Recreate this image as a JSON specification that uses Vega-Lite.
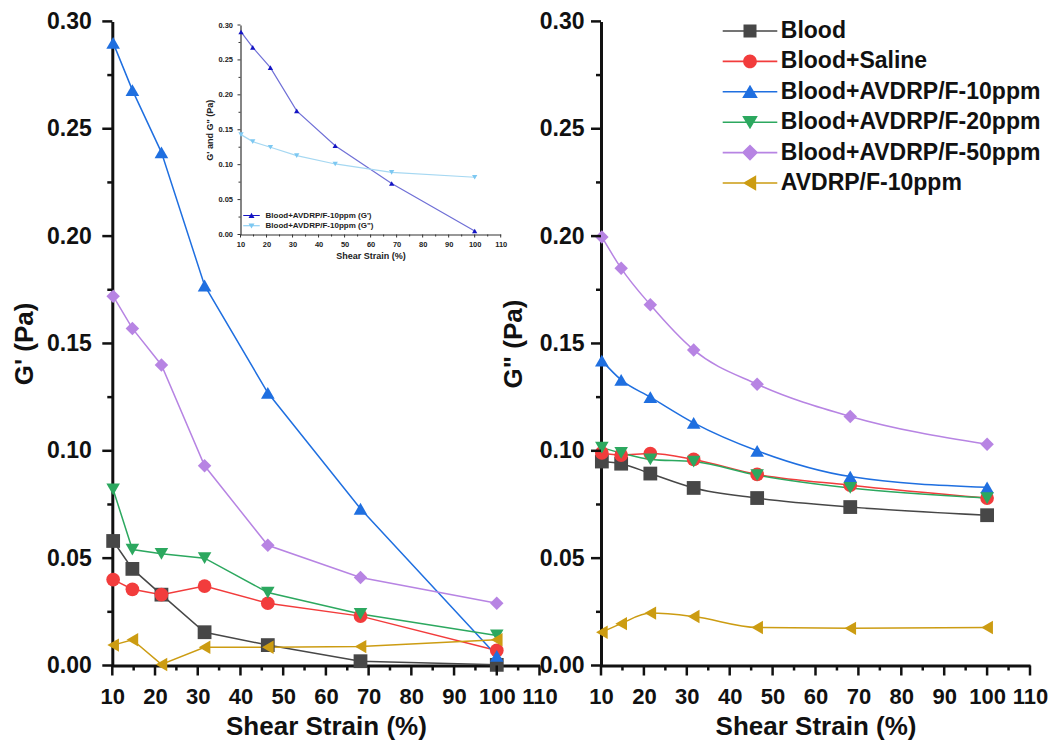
{
  "$schema": "https://vega.github.io/schema/vega-lite/v6.json",
  "width": 1055,
  "height": 745,
  "padding": 0,
  "autosize": {"type": "none"},
  "background": "white",
  "config": {
    "view": {"stroke": null},
    "axis": {
      "grid": false,
      "ticks": false,
      "labelFont": "Liberation Sans",
      "titleFont": "Liberation Sans",
      "labelFontWeight": "bold",
      "titleFontWeight": "bold",
      "labelColor": "#111111",
      "titleColor": "#111111",
      "domainColor": "#111111",
      "labelFlush": false,
      "labelOverlap": false
    }
  },
  "datasets": {
    "gprime": [
      {"series": "Blood", "strain": 10.2, "value": 0.058},
      {"series": "Blood", "strain": 14.7, "value": 0.045},
      {"series": "Blood", "strain": 21.5, "value": 0.033},
      {"series": "Blood", "strain": 31.6, "value": 0.0155},
      {"series": "Blood", "strain": 46.4, "value": 0.0095},
      {"series": "Blood", "strain": 68.1, "value": 0.002},
      {"series": "Blood", "strain": 100, "value": 0.0003},
      {"series": "Blood+Saline", "strain": 10.2, "value": 0.040},
      {"series": "Blood+Saline", "strain": 14.7, "value": 0.0355},
      {"series": "Blood+Saline", "strain": 21.5, "value": 0.033},
      {"series": "Blood+Saline", "strain": 31.6, "value": 0.037},
      {"series": "Blood+Saline", "strain": 46.4, "value": 0.029},
      {"series": "Blood+Saline", "strain": 68.1, "value": 0.023},
      {"series": "Blood+Saline", "strain": 100, "value": 0.007},
      {"series": "Blood+AVDRP/F-10ppm", "strain": 10.2, "value": 0.290},
      {"series": "Blood+AVDRP/F-10ppm", "strain": 14.7, "value": 0.268},
      {"series": "Blood+AVDRP/F-10ppm", "strain": 21.5, "value": 0.239},
      {"series": "Blood+AVDRP/F-10ppm", "strain": 31.6, "value": 0.177},
      {"series": "Blood+AVDRP/F-10ppm", "strain": 46.4, "value": 0.127},
      {"series": "Blood+AVDRP/F-10ppm", "strain": 68.1, "value": 0.073},
      {"series": "Blood+AVDRP/F-10ppm", "strain": 100, "value": 0.0045},
      {"series": "Blood+AVDRP/F-20ppm", "strain": 10.2, "value": 0.082},
      {"series": "Blood+AVDRP/F-20ppm", "strain": 14.7, "value": 0.054},
      {"series": "Blood+AVDRP/F-20ppm", "strain": 21.5, "value": 0.052},
      {"series": "Blood+AVDRP/F-20ppm", "strain": 31.6, "value": 0.050},
      {"series": "Blood+AVDRP/F-20ppm", "strain": 46.4, "value": 0.034},
      {"series": "Blood+AVDRP/F-20ppm", "strain": 68.1, "value": 0.024},
      {"series": "Blood+AVDRP/F-20ppm", "strain": 100, "value": 0.014},
      {"series": "Blood+AVDRP/F-50ppm", "strain": 10.2, "value": 0.172},
      {"series": "Blood+AVDRP/F-50ppm", "strain": 14.7, "value": 0.157},
      {"series": "Blood+AVDRP/F-50ppm", "strain": 21.5, "value": 0.140},
      {"series": "Blood+AVDRP/F-50ppm", "strain": 31.6, "value": 0.093},
      {"series": "Blood+AVDRP/F-50ppm", "strain": 46.4, "value": 0.056},
      {"series": "Blood+AVDRP/F-50ppm", "strain": 68.1, "value": 0.041},
      {"series": "Blood+AVDRP/F-50ppm", "strain": 100, "value": 0.029},
      {"series": "AVDRP/F-10ppm", "strain": 10.2, "value": 0.0095},
      {"series": "AVDRP/F-10ppm", "strain": 14.7, "value": 0.012},
      {"series": "AVDRP/F-10ppm", "strain": 21.5, "value": 0.0005},
      {"series": "AVDRP/F-10ppm", "strain": 31.6, "value": 0.0085},
      {"series": "AVDRP/F-10ppm", "strain": 46.4, "value": 0.0085},
      {"series": "AVDRP/F-10ppm", "strain": 68.1, "value": 0.0088},
      {"series": "AVDRP/F-10ppm", "strain": 100, "value": 0.012}
    ],
    "gdouble": [
      {"series": "Blood", "strain": 10.2, "value": 0.095},
      {"series": "Blood", "strain": 14.7, "value": 0.094},
      {"series": "Blood", "strain": 21.5, "value": 0.0894},
      {"series": "Blood", "strain": 31.6, "value": 0.0827},
      {"series": "Blood", "strain": 46.4, "value": 0.078},
      {"series": "Blood", "strain": 68.1, "value": 0.0738},
      {"series": "Blood", "strain": 100, "value": 0.070},
      {"series": "Blood+Saline", "strain": 10.2, "value": 0.099},
      {"series": "Blood+Saline", "strain": 14.7, "value": 0.098},
      {"series": "Blood+Saline", "strain": 21.5, "value": 0.0987},
      {"series": "Blood+Saline", "strain": 31.6, "value": 0.096},
      {"series": "Blood+Saline", "strain": 46.4, "value": 0.089},
      {"series": "Blood+Saline", "strain": 68.1, "value": 0.084},
      {"series": "Blood+Saline", "strain": 100, "value": 0.078},
      {"series": "Blood+AVDRP/F-10ppm", "strain": 10.2, "value": 0.142},
      {"series": "Blood+AVDRP/F-10ppm", "strain": 14.7, "value": 0.133},
      {"series": "Blood+AVDRP/F-10ppm", "strain": 21.5, "value": 0.125},
      {"series": "Blood+AVDRP/F-10ppm", "strain": 31.6, "value": 0.113},
      {"series": "Blood+AVDRP/F-10ppm", "strain": 46.4, "value": 0.100},
      {"series": "Blood+AVDRP/F-10ppm", "strain": 68.1, "value": 0.088},
      {"series": "Blood+AVDRP/F-10ppm", "strain": 100, "value": 0.083},
      {"series": "Blood+AVDRP/F-20ppm", "strain": 10.2, "value": 0.1015},
      {"series": "Blood+AVDRP/F-20ppm", "strain": 14.7, "value": 0.099},
      {"series": "Blood+AVDRP/F-20ppm", "strain": 21.5, "value": 0.096},
      {"series": "Blood+AVDRP/F-20ppm", "strain": 31.6, "value": 0.095},
      {"series": "Blood+AVDRP/F-20ppm", "strain": 46.4, "value": 0.0887},
      {"series": "Blood+AVDRP/F-20ppm", "strain": 68.1, "value": 0.0827},
      {"series": "Blood+AVDRP/F-20ppm", "strain": 100, "value": 0.078},
      {"series": "Blood+AVDRP/F-50ppm", "strain": 10.2, "value": 0.1996},
      {"series": "Blood+AVDRP/F-50ppm", "strain": 14.7, "value": 0.185},
      {"series": "Blood+AVDRP/F-50ppm", "strain": 21.5, "value": 0.168},
      {"series": "Blood+AVDRP/F-50ppm", "strain": 31.6, "value": 0.147},
      {"series": "Blood+AVDRP/F-50ppm", "strain": 46.4, "value": 0.131},
      {"series": "Blood+AVDRP/F-50ppm", "strain": 68.1, "value": 0.116},
      {"series": "Blood+AVDRP/F-50ppm", "strain": 100, "value": 0.103},
      {"series": "AVDRP/F-10ppm", "strain": 10.2, "value": 0.0155},
      {"series": "AVDRP/F-10ppm", "strain": 14.7, "value": 0.0195},
      {"series": "AVDRP/F-10ppm", "strain": 21.5, "value": 0.0244},
      {"series": "AVDRP/F-10ppm", "strain": 31.6, "value": 0.0228},
      {"series": "AVDRP/F-10ppm", "strain": 46.4, "value": 0.0177},
      {"series": "AVDRP/F-10ppm", "strain": 68.1, "value": 0.0173},
      {"series": "AVDRP/F-10ppm", "strain": 100, "value": 0.0177}
    ],
    "inset": [
      {"series": "Blood+AVDRP/F-10ppm (G')", "strain": 10.2, "value": 0.290},
      {"series": "Blood+AVDRP/F-10ppm (G')", "strain": 14.7, "value": 0.268},
      {"series": "Blood+AVDRP/F-10ppm (G')", "strain": 21.5, "value": 0.239},
      {"series": "Blood+AVDRP/F-10ppm (G')", "strain": 31.6, "value": 0.177},
      {"series": "Blood+AVDRP/F-10ppm (G')", "strain": 46.4, "value": 0.127},
      {"series": "Blood+AVDRP/F-10ppm (G')", "strain": 68.1, "value": 0.073},
      {"series": "Blood+AVDRP/F-10ppm (G')", "strain": 100, "value": 0.005},
      {"series": "Blood+AVDRP/F-10ppm (G\")", "strain": 10.2, "value": 0.143},
      {"series": "Blood+AVDRP/F-10ppm (G\")", "strain": 14.7, "value": 0.133},
      {"series": "Blood+AVDRP/F-10ppm (G\")", "strain": 21.5, "value": 0.125},
      {"series": "Blood+AVDRP/F-10ppm (G\")", "strain": 31.6, "value": 0.113},
      {"series": "Blood+AVDRP/F-10ppm (G\")", "strain": 46.4, "value": 0.101},
      {"series": "Blood+AVDRP/F-10ppm (G\")", "strain": 68.1, "value": 0.089},
      {"series": "Blood+AVDRP/F-10ppm (G\")", "strain": 100, "value": 0.082}
    ]
  },
  "layer": [
    {
      "data": {"name": "gprime"},
      "layer": [
        {
          "mark": {"type": "line", "strokeWidth": 1.5},
          "encoding": {
            "x": {"field": "strain", "type": "quantitative",
              "scale": {"domain": [10, 110], "range": [112.3, 539.5], "nice": false, "zero": false},
              "axis": {"orient": "bottom", "offset": -79.5, "values": [10, 20, 30, 40, 50, 60, 70, 80, 90, 100, 110],
                "title": "Shear Strain (%)", "labelFontSize": 22, "titleFontSize": 26,
                "domainWidth": 3, "labelPadding": 21, "titlePadding": 6}},
            "y": {"field": "value", "type": "quantitative",
              "scale": {"domain": [0, 0.3], "range": [665.5, 21.4], "nice": false, "zero": false},
              "axis": {"orient": "left", "offset": -112.3, "values": [0, 0.05, 0.1, 0.15, 0.2, 0.25, 0.3], "format": ".2f",
                "title": "G' (Pa)", "labelFontSize": 23, "titleFontSize": 26,
                "domainWidth": 3, "labelPadding": 21, "titlePadding": 9}},
            "color": {"field": "series", "type": "nominal",
              "scale": {"domain": ["Blood", "Blood+Saline", "Blood+AVDRP/F-10ppm", "Blood+AVDRP/F-20ppm", "Blood+AVDRP/F-50ppm", "AVDRP/F-10ppm"],
                "range": ["#474747", "#f23c3c", "#1f6fe0", "#2ca85f", "#b784e3", "#cc9c12"]},
              "legend": null}
          }
        },
        {
          "mark": {"type": "point", "filled": true, "opacity": 1},
          "encoding": {
            "x": {"field": "strain", "type": "quantitative", "axis": null},
            "y": {"field": "value", "type": "quantitative", "axis": null},
            "color": {"field": "series", "type": "nominal",
              "scale": {"domain": ["Blood", "Blood+Saline", "Blood+AVDRP/F-10ppm", "Blood+AVDRP/F-20ppm", "Blood+AVDRP/F-50ppm", "AVDRP/F-10ppm"],
                "range": ["#474747", "#f23c3c", "#1f6fe0", "#2ca85f", "#b784e3", "#cc9c12"]},
              "legend": null},
            "shape": {"field": "series", "type": "nominal",
              "scale": {"domain": ["Blood", "Blood+Saline", "Blood+AVDRP/F-10ppm", "Blood+AVDRP/F-20ppm", "Blood+AVDRP/F-50ppm", "AVDRP/F-10ppm"],
                "range": ["square", "circle", "triangle-up", "triangle-down", "diamond", "triangle-left"]},
              "legend": null},
            "size": {"field": "series", "type": "ordinal",
              "scale": {"domain": ["Blood", "Blood+Saline", "Blood+AVDRP/F-10ppm", "Blood+AVDRP/F-20ppm", "Blood+AVDRP/F-50ppm", "AVDRP/F-10ppm"],
                "range": [190, 180, 260, 260, 290, 260]},
              "legend": null}
          }
        },
        {
          "data": {"values": [{"tick": 10}, {"tick": 20}, {"tick": 30}, {"tick": 40}, {"tick": 50}, {"tick": 60}, {"tick": 70}, {"tick": 80}, {"tick": 90}, {"tick": 100}, {"tick": 110}]},
          "mark": {"type": "point", "shape": "M-0.125,0H0.125V1H-0.125Z", "size": 400, "filled": true, "color": "#111111", "opacity": 1, "strokeWidth": 0},
          "encoding": {
            "x": {"field": "tick", "type": "quantitative", "axis": null},
            "y": {"datum": 0, "type": "quantitative", "axis": null}
          }
        },
        {
          "data": {"values": [{"tick": 15}, {"tick": 25}, {"tick": 35}, {"tick": 45}, {"tick": 55}, {"tick": 65}, {"tick": 75}, {"tick": 85}, {"tick": 95}, {"tick": 105}]},
          "mark": {"type": "point", "shape": "M-0.25,0H0.25V1H-0.25Z", "size": 100, "filled": true, "color": "#111111", "opacity": 1, "strokeWidth": 0},
          "encoding": {
            "x": {"field": "tick", "type": "quantitative", "axis": null},
            "y": {"datum": 0, "type": "quantitative", "axis": null}
          }
        },
        {
          "data": {"values": [{"tick": 0}, {"tick": 0.05}, {"tick": 0.1}, {"tick": 0.15}, {"tick": 0.2}, {"tick": 0.25}, {"tick": 0.3}]},
          "mark": {"type": "point", "shape": "M0,-0.125H-1V0.125H0Z", "size": 400, "filled": true, "color": "#111111", "opacity": 1, "strokeWidth": 0},
          "encoding": {
            "y": {"field": "tick", "type": "quantitative", "axis": null},
            "x": {"datum": 10, "type": "quantitative", "axis": null}
          }
        },
        {
          "data": {"values": [{"tick": 0.025}, {"tick": 0.075}, {"tick": 0.125}, {"tick": 0.175}, {"tick": 0.225}, {"tick": 0.275}]},
          "mark": {"type": "point", "shape": "M0,-0.25H-1V0.25H0Z", "size": 100, "filled": true, "color": "#111111", "opacity": 1, "strokeWidth": 0},
          "encoding": {
            "y": {"field": "tick", "type": "quantitative", "axis": null},
            "x": {"datum": 10, "type": "quantitative", "axis": null}
          }
        }
      ],
      "resolve": {"scale": {"color": "independent"}, "axis": {"x": "independent", "y": "independent"}}
    },
    {
      "data": {"name": "inset"},
      "layer": [
        {
          "mark": {"type": "line", "strokeWidth": 1.2},
          "encoding": {
            "x": {"field": "strain", "type": "quantitative",
              "scale": {"domain": [10, 110], "range": [240.5, 500.7], "nice": false, "zero": false},
              "axis": {"orient": "bottom", "offset": -510.5, "values": [10, 20, 30, 40, 50, 60, 70, 80, 90, 100, 110],
                "title": "Shear Strain (%)", "labelFontSize": 7.5, "titleFontSize": 9,
                "domainWidth": 1.2, "labelPadding": 6, "titlePadding": 3, "labelColor": "#222222", "titleColor": "#222222",
                "domainColor": "#333333"}},
            "y": {"field": "value", "type": "quantitative",
              "scale": {"domain": [0, 0.3], "range": [234.5, 25], "nice": false, "zero": false},
              "axis": {"orient": "left", "offset": -240.5, "values": [0, 0.05, 0.1, 0.15, 0.2, 0.25, 0.3], "format": ".2f",
                "title": "G' and G\" (Pa)", "labelFontSize": 7.5, "titleFontSize": 9,
                "domainWidth": 1.2, "labelPadding": 8, "titlePadding": 3, "labelColor": "#222222", "titleColor": "#222222",
                "domainColor": "#333333"}},
            "color": {"field": "series", "type": "nominal",
              "scale": {"domain": ["Blood+AVDRP/F-10ppm (G')", "Blood+AVDRP/F-10ppm (G\")"], "range": ["#6f6fd6", "#a6d8f2"]},
              "legend": null}
          }
        },
        {
          "mark": {"type": "point", "filled": true, "opacity": 1, "size": 28},
          "encoding": {
            "x": {"field": "strain", "type": "quantitative", "axis": null},
            "y": {"field": "value", "type": "quantitative", "axis": null},
            "color": {"field": "series", "type": "nominal",
              "scale": {"domain": ["Blood+AVDRP/F-10ppm (G')", "Blood+AVDRP/F-10ppm (G\")"], "range": ["#1414c4", "#7cc8f2"]},
              "legend": null},
            "shape": {"field": "series", "type": "nominal",
              "scale": {"domain": ["Blood+AVDRP/F-10ppm (G')", "Blood+AVDRP/F-10ppm (G\")"], "range": ["triangle-up", "triangle-down"]},
              "legend": null}
          }
        },
        {
          "mark": {"type": "point", "filled": true, "opacity": 0},
          "encoding": {
            "color": {"field": "series", "type": "nominal",
              "scale": {"domain": ["Blood+AVDRP/F-10ppm (G')", "Blood+AVDRP/F-10ppm (G\")"], "range": ["#1414c4", "#7cc8f2"]},
              "legend": {"orient": "none", "legendX": 247.5, "legendY": 211.5, "title": null, "labelFontSize": 8,
                "labelFont": "Liberation Sans", "labelFontWeight": "bold", "labelColor": "#222222", "symbolSize": 25,
                "symbolOpacity": 1, "symbolStrokeWidth": 0, "labelOffset": 10, "rowPadding": 2.3, "padding": 0, "labelLimit": 300}},
            "shape": {"field": "series", "type": "nominal",
              "scale": {"domain": ["Blood+AVDRP/F-10ppm (G')", "Blood+AVDRP/F-10ppm (G\")"],
                "range": ["M-3.3,-0.2H3.3V0.2H-3.3ZM0,-1.1L1.2,0.95H-1.2Z", "M-3.3,-0.2H3.3V0.2H-3.3ZM0,1.1L-1.2,-0.95H1.2Z"]},
              "legend": {"orient": "none", "legendX": 247.5, "legendY": 211.5, "title": null, "labelFontSize": 8,
                "labelFont": "Liberation Sans", "labelFontWeight": "bold", "labelColor": "#222222", "symbolSize": 25,
                "symbolOpacity": 1, "symbolStrokeWidth": 0, "labelOffset": 10, "rowPadding": 2.3, "padding": 0, "labelLimit": 300}}
          }
        },
        {
          "data": {"values": [{"tick": 10}, {"tick": 20}, {"tick": 30}, {"tick": 40}, {"tick": 50}, {"tick": 60}, {"tick": 70}, {"tick": 80}, {"tick": 90}, {"tick": 100}, {"tick": 110}]},
          "mark": {"type": "point", "shape": "M-0.167,0H0.167V1H-0.167Z", "size": 36, "filled": true, "color": "#333333", "opacity": 1, "strokeWidth": 0},
          "encoding": {
            "x": {"field": "tick", "type": "quantitative", "axis": null},
            "y": {"datum": 0, "type": "quantitative", "axis": null}
          }
        },
        {
          "data": {"values": [{"tick": 15}, {"tick": 25}, {"tick": 35}, {"tick": 45}, {"tick": 55}, {"tick": 65}, {"tick": 75}, {"tick": 85}, {"tick": 95}, {"tick": 105}]},
          "mark": {"type": "point", "shape": "M-0.25,0H0.25V1H-0.25Z", "size": 16, "filled": true, "color": "#333333", "opacity": 1, "strokeWidth": 0},
          "encoding": {
            "x": {"field": "tick", "type": "quantitative", "axis": null},
            "y": {"datum": 0, "type": "quantitative", "axis": null}
          }
        },
        {
          "data": {"values": [{"tick": 0}, {"tick": 0.05}, {"tick": 0.1}, {"tick": 0.15}, {"tick": 0.2}, {"tick": 0.25}, {"tick": 0.3}]},
          "mark": {"type": "point", "shape": "M0,-0.167H-1V0.167H0Z", "size": 36, "filled": true, "color": "#333333", "opacity": 1, "strokeWidth": 0},
          "encoding": {
            "y": {"field": "tick", "type": "quantitative", "axis": null},
            "x": {"datum": 10, "type": "quantitative", "axis": null}
          }
        },
        {
          "data": {"values": [{"tick": 0.025}, {"tick": 0.075}, {"tick": 0.125}, {"tick": 0.175}, {"tick": 0.225}, {"tick": 0.275}]},
          "mark": {"type": "point", "shape": "M0,-0.25H-1V0.25H0Z", "size": 16, "filled": true, "color": "#333333", "opacity": 1, "strokeWidth": 0},
          "encoding": {
            "y": {"field": "tick", "type": "quantitative", "axis": null},
            "x": {"datum": 10, "type": "quantitative", "axis": null}
          }
        }
      ],
      "resolve": {"scale": {"color": "independent", "shape": "independent"}, "axis": {"x": "independent", "y": "independent"}}
    },
    {
      "data": {"name": "gdouble"},
      "layer": [
        {
          "mark": {"type": "line", "strokeWidth": 1.5, "interpolate": "monotone"},
          "encoding": {
            "x": {"field": "strain", "type": "quantitative",
              "scale": {"domain": [10, 110], "range": [601, 1030], "nice": false, "zero": false},
              "axis": {"orient": "bottom", "offset": -79.5, "values": [10, 20, 30, 40, 50, 60, 70, 80, 90, 100, 110],
                "title": "Shear Strain (%)", "labelFontSize": 22, "titleFontSize": 26,
                "domainWidth": 3, "labelPadding": 21, "titlePadding": 6}},
            "y": {"field": "value", "type": "quantitative",
              "scale": {"domain": [0, 0.3], "range": [665.5, 21.4], "nice": false, "zero": false},
              "axis": {"orient": "left", "offset": -601, "values": [0, 0.05, 0.1, 0.15, 0.2, 0.25, 0.3], "format": ".2f",
                "title": "G\" (Pa)", "labelFontSize": 23, "titleFontSize": 26,
                "domainWidth": 3, "labelPadding": 17, "titlePadding": 13}},
            "color": {"field": "series", "type": "nominal",
              "scale": {"domain": ["Blood", "Blood+Saline", "Blood+AVDRP/F-10ppm", "Blood+AVDRP/F-20ppm", "Blood+AVDRP/F-50ppm", "AVDRP/F-10ppm"],
                "range": ["#474747", "#f23c3c", "#1f6fe0", "#2ca85f", "#b784e3", "#cc9c12"]},
              "legend": null}
          }
        },
        {
          "mark": {"type": "point", "filled": true, "opacity": 1},
          "encoding": {
            "x": {"field": "strain", "type": "quantitative", "axis": null},
            "y": {"field": "value", "type": "quantitative", "axis": null},
            "color": {"field": "series", "type": "nominal",
              "scale": {"domain": ["Blood", "Blood+Saline", "Blood+AVDRP/F-10ppm", "Blood+AVDRP/F-20ppm", "Blood+AVDRP/F-50ppm", "AVDRP/F-10ppm"],
                "range": ["#474747", "#f23c3c", "#1f6fe0", "#2ca85f", "#b784e3", "#cc9c12"]},
              "legend": null},
            "shape": {"field": "series", "type": "nominal",
              "scale": {"domain": ["Blood", "Blood+Saline", "Blood+AVDRP/F-10ppm", "Blood+AVDRP/F-20ppm", "Blood+AVDRP/F-50ppm", "AVDRP/F-10ppm"],
                "range": ["square", "circle", "triangle-up", "triangle-down", "diamond", "triangle-left"]},
              "legend": null},
            "size": {"field": "series", "type": "ordinal",
              "scale": {"domain": ["Blood", "Blood+Saline", "Blood+AVDRP/F-10ppm", "Blood+AVDRP/F-20ppm", "Blood+AVDRP/F-50ppm", "AVDRP/F-10ppm"],
                "range": [190, 180, 260, 260, 290, 260]},
              "legend": null}
          }
        },
        {
          "mark": {"type": "point", "filled": true, "opacity": 0},
          "encoding": {
            "color": {"field": "series", "type": "nominal",
              "scale": {"domain": ["Blood", "Blood+Saline", "Blood+AVDRP/F-10ppm", "Blood+AVDRP/F-20ppm", "Blood+AVDRP/F-50ppm", "AVDRP/F-10ppm"],
                "range": ["#474747", "#f23c3c", "#1f6fe0", "#2ca85f", "#b784e3", "#cc9c12"]},
              "legend": {"orient": "none", "legendX": 738.5, "legendY": 19.5, "title": null, "labelFontSize": 23,
                "labelFont": "Liberation Sans", "labelFontWeight": "bold", "labelColor": "#111111", "symbolSize": 169,
                "symbolOpacity": 1, "symbolStrokeWidth": 0, "labelOffset": 19.3, "rowPadding": 6.4, "padding": 0, "labelLimit": 400}},
            "shape": {"field": "series", "type": "nominal",
              "scale": {"domain": ["Blood", "Blood+Saline", "Blood+AVDRP/F-10ppm", "Blood+AVDRP/F-20ppm", "Blood+AVDRP/F-50ppm", "AVDRP/F-10ppm"],
                "range": [
                  "M-4.2,-0.12H4.2V0.12H-4.2ZM-1,-1H1V1H-1Z",
                  "M-4.2,-0.12H4.2V0.12H-4.2ZM-1.05,0A1.05,1.05,0,0,1,1.05,0A1.05,1.05,0,0,1,-1.05,0Z",
                  "M-4.2,-0.12H4.2V0.12H-4.2ZM0,-1.1L1.2,0.95H-1.2Z",
                  "M-4.2,-0.12H4.2V0.12H-4.2ZM0,1.1L-1.2,-0.95H1.2Z",
                  "M-4.2,-0.12H4.2V0.12H-4.2ZM0,-1.25L1.25,0L0,1.25L-1.25,0Z",
                  "M-4.2,-0.12H4.2V0.12H-4.2ZM-1.1,0L0.95,-1.2V1.2Z"
                ]},
              "legend": {"orient": "none", "legendX": 738.5, "legendY": 19.5, "title": null, "labelFontSize": 23,
                "labelFont": "Liberation Sans", "labelFontWeight": "bold", "labelColor": "#111111", "symbolSize": 169,
                "symbolOpacity": 1, "symbolStrokeWidth": 0, "labelOffset": 19.3, "rowPadding": 6.4, "padding": 0, "labelLimit": 400}}
          }
        },
        {
          "data": {"values": [{"tick": 10}, {"tick": 20}, {"tick": 30}, {"tick": 40}, {"tick": 50}, {"tick": 60}, {"tick": 70}, {"tick": 80}, {"tick": 90}, {"tick": 100}, {"tick": 110}]},
          "mark": {"type": "point", "shape": "M-0.125,0H0.125V1H-0.125Z", "size": 400, "filled": true, "color": "#111111", "opacity": 1, "strokeWidth": 0},
          "encoding": {
            "x": {"field": "tick", "type": "quantitative", "axis": null},
            "y": {"datum": 0, "type": "quantitative", "axis": null}
          }
        },
        {
          "data": {"values": [{"tick": 15}, {"tick": 25}, {"tick": 35}, {"tick": 45}, {"tick": 55}, {"tick": 65}, {"tick": 75}, {"tick": 85}, {"tick": 95}, {"tick": 105}]},
          "mark": {"type": "point", "shape": "M-0.25,0H0.25V1H-0.25Z", "size": 100, "filled": true, "color": "#111111", "opacity": 1, "strokeWidth": 0},
          "encoding": {
            "x": {"field": "tick", "type": "quantitative", "axis": null},
            "y": {"datum": 0, "type": "quantitative", "axis": null}
          }
        },
        {
          "data": {"values": [{"tick": 0}, {"tick": 0.05}, {"tick": 0.1}, {"tick": 0.15}, {"tick": 0.2}, {"tick": 0.25}, {"tick": 0.3}]},
          "mark": {"type": "point", "shape": "M0,-0.125H-1V0.125H0Z", "size": 400, "filled": true, "color": "#111111", "opacity": 1, "strokeWidth": 0},
          "encoding": {
            "y": {"field": "tick", "type": "quantitative", "axis": null},
            "x": {"datum": 10, "type": "quantitative", "axis": null}
          }
        },
        {
          "data": {"values": [{"tick": 0.025}, {"tick": 0.075}, {"tick": 0.125}, {"tick": 0.175}, {"tick": 0.225}, {"tick": 0.275}]},
          "mark": {"type": "point", "shape": "M0,-0.25H-1V0.25H0Z", "size": 100, "filled": true, "color": "#111111", "opacity": 1, "strokeWidth": 0},
          "encoding": {
            "y": {"field": "tick", "type": "quantitative", "axis": null},
            "x": {"datum": 10, "type": "quantitative", "axis": null}
          }
        }
      ],
      "resolve": {"scale": {"color": "independent", "shape": "independent"}, "axis": {"x": "independent", "y": "independent"}}
    }
  ],
  "resolve": {
    "scale": {"x": "independent", "y": "independent", "color": "independent", "shape": "independent", "size": "independent"},
    "axis": {"x": "independent", "y": "independent"}
  }
}
